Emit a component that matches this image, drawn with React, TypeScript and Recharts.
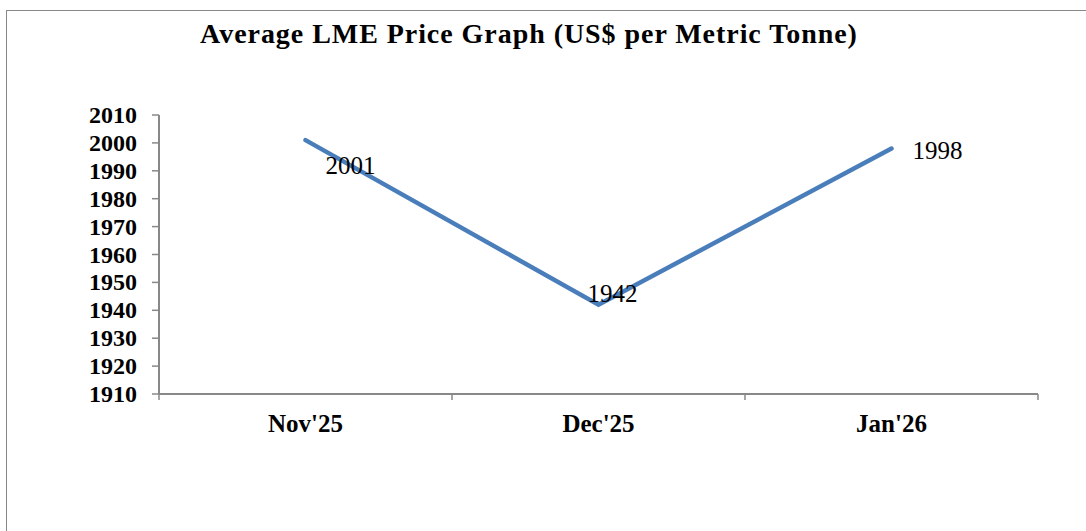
import React from "react";
import { LineChart, Line, XAxis, YAxis, LabelList } from "recharts";

const categories = ["Nov'25", "Dec'25", "Jan'26"];
const prices = [2001, 1942, 1998];
const yTicks = [1910, 1920, 1930, 1940, 1950, 1960, 1970, 1980, 1990, 2000, 2010];
const title = "Average LME Price Graph (US$ per Metric Tonne)";

const data = categories.map((c, i) => ({ x: i + 0.5, name: c, price: prices[i] }));
const xTicks = [0, 0.5, 1, 1.5, 2, 2.5, 3];

const FONT = "Liberation Serif";
const AXIS = "#888888";
const LINE = "#4a7ebb";

const labelOffsets = [
  { dx: 45, dy: 34 },
  { dx: 14, dy: -3 },
  { dx: 46, dy: 11 },
];

const XTick = (props: any) => {
  const { x, y, payload } = props;
  const v = payload.value as number;
  if (Number.isInteger(v)) {
    return <line x1={x} x2={x} y1={y - 8} y2={y - 2} stroke={AXIS} strokeWidth={1.5} />;
  }
  const name = categories[Math.floor(v)];
  return (
    <text x={x} y={y + 30} textAnchor="middle" style={{ fontFamily: FONT, fontWeight: "bold", fontSize: 25 }} fill="#000">
      {name}
    </text>
  );
};

const YTick = (props: any) => {
  const { x, y, payload } = props;
  return (
    <text x={x + 1} y={y} dy={8} textAnchor="end" style={{ fontFamily: FONT, fontWeight: "bold", fontSize: 24 }} fill="#000">
      {payload.value}
    </text>
  );
};

const DataLabel = (props: any) => {
  const { x, y, value, index } = props;
  const o = labelOffsets[index] || { dx: 0, dy: 0 };
  return (
    <text x={x + o.dx} y={y + o.dy} textAnchor="middle" style={{ fontFamily: FONT, fontSize: 25 }} fill="#000">
      {value}
    </text>
  );
};

export default function App() {
  return (
    <div style={{ position: "absolute", left: 0, top: 0, width: 1086, height: 531, overflow: "hidden", background: "#fff" }}>
      <div
        style={{
          position: "absolute",
          left: 6,
          top: 10,
          width: 1100,
          height: 560,
          border: `1.5px solid ${AXIS}`,
          boxSizing: "border-box",
        }}
      />
      <div
        style={{
          position: "absolute",
          left: 0,
          width: 1058,
          top: 16,
          textAlign: "center",
          fontFamily: FONT,
          fontWeight: "bold",
          fontSize: 28,
          letterSpacing: 0.95,
          lineHeight: "36px",
          color: "#000",
        }}
      >
        {title}
      </div>
      <div style={{ position: "absolute", left: 0, top: 0 }}>
        <LineChart width={1086} height={531} data={data} margin={{ top: 115, right: 48, bottom: 107, left: 0 }}>
          <XAxis
            dataKey="x"
            type="number"
            domain={[0, 3]}
            ticks={xTicks}
            interval={0}
            tick={<XTick />}
            tickLine={false}
            axisLine={{ stroke: AXIS, strokeWidth: 2 }}
            height={30}
          />
          <YAxis
            type="number"
            domain={[1910, 2010]}
            ticks={yTicks}
            interval={0}
            width={159}
            tickSize={7}
            tickMargin={16}
            axisLine={{ stroke: AXIS, strokeWidth: 2 }}
            tickLine={{ stroke: AXIS, strokeWidth: 1.5 }}
            tick={<YTick />}
          />
          <Line
            type="linear"
            dataKey="price"
            stroke={LINE}
            strokeWidth={4.5}
            strokeLinecap="round"
            dot={false}
            activeDot={false}
            isAnimationActive={false}
          >
            <LabelList dataKey="price" content={<DataLabel />} />
          </Line>
        </LineChart>
      </div>
    </div>
  );
}
